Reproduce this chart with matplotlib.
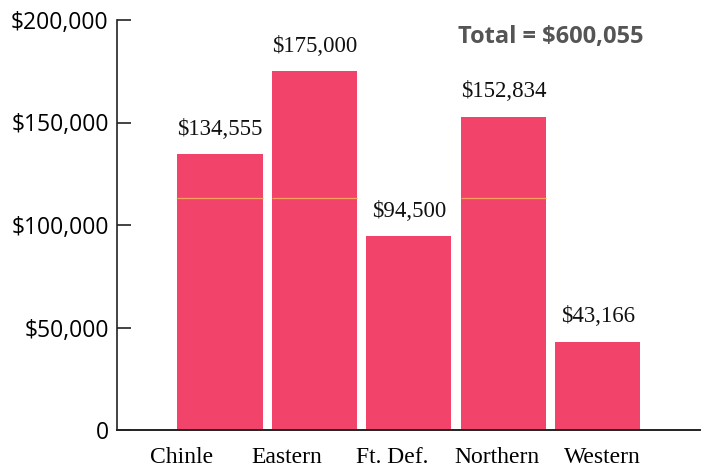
import matplotlib
matplotlib.use("Agg")
import matplotlib.pyplot as plt

categories = ["Chinle", "Eastern", "Ft. Def.", "Northern", "Western"]
values = [134555, 175000, 94500, 152834, 43166]
value_labels = ["$134,555", "$175,000", "$94,500", "$152,834", "$43,166"]
yticks = [0, 50000, 100000, 150000, 200000]
ytick_labels = ["0", "$50,000", "$100,000", "$150,000", "$200,000"]
total_text = "Total = $600,055"
ref_line_value = 113300

bar_color = "#F2436B"
bar_width = 0.9
# category labels in the original sit on a slightly wider spacing than the bars
label_start, label_step = -0.41, 1.115

fig = plt.figure(figsize=(7.01, 4.68), dpi=100)
ax = fig.add_axes([117/701, 38/468, 583/701, 410/468])

x = list(range(len(categories)))
ax.bar(x, values, width=bar_width, color=bar_color, zorder=2)

# faint orange line visible across the bars
for xi, v in zip(x, values):
    if v > ref_line_value:
        ax.hlines(ref_line_value, xi - bar_width/2, xi + bar_width/2,
                  colors="#F7A35C", linewidth=0.9, zorder=3)

for xi, v, lab in zip(x, values, value_labels):
    ax.annotate(lab, (xi, v), xytext=(0, 25), textcoords="offset pixels",
                ha="center", va="center", fontsize=16.5,
                family="Liberation Serif", color="#111111")

ax.set_xlim(-1.09, 5.08)
ax.set_ylim(0, 200000)
ax.set_xticks([label_start + label_step * i for i in x])
ax.set_xticklabels(categories, family="Liberation Serif", fontsize=17)
ax.set_yticks(yticks)
ax.set_yticklabels(ytick_labels, family="Open Sans", fontsize=16.5)
ax.tick_params(axis="x", length=0, pad=12)
ax.tick_params(axis="y", direction="in", length=10, width=1.2, pad=6, color="#222222")

for s in ["top", "right"]:
    ax.spines[s].set_visible(False)
ax.spines["left"].set_linewidth(1.2)
ax.spines["left"].set_color("#222222")
ax.spines["bottom"].set_linewidth(1.4)
ax.spines["bottom"].set_color("#222222")

ax.text(0.585, 0.958, total_text, transform=ax.transAxes, ha="left", va="center",
        fontsize=17, family="Open Sans", fontweight="bold", color="#555555")

fig.savefig("out.png", dpi=100)
